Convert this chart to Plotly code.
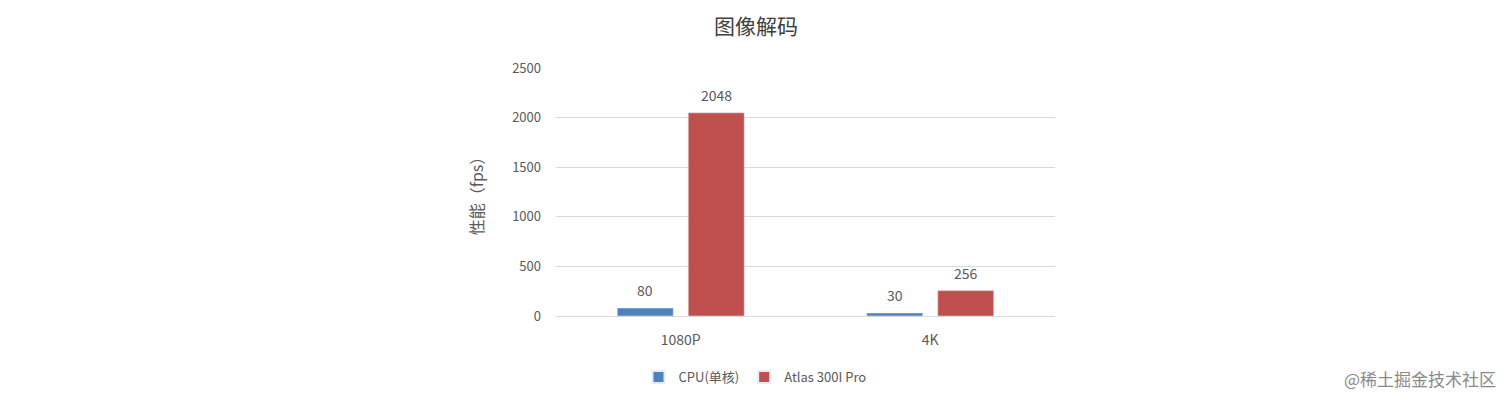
import plotly.graph_objects as go

categories = ["1080P", "4K"]
cpu_values = [80, 30]
atlas_values = [2048, 256]
series_names = ["CPU(单核)", "Atlas 300I Pro"]
y_ticks = [0, 500, 1000, 1500, 2000, 2500]

FONT = "Noto Sans CJK SC, Noto Sans, sans-serif"
GREY = "#595959"

# page body has 8px margin, so figure coordinates = screen - 8
OFF = 8
L, R_EDGE, T, B_EDGE = 556 - OFF, 1055 - OFF, 68 - OFF, 316 - OFF
PW, PH = R_EDGE - L, B_EDGE - T

fig = go.Figure()
fig.add_trace(go.Bar(
    x=categories, y=cpu_values, name=series_names[0],
    marker_color="#4F81BD",
))
fig.add_trace(go.Bar(
    x=categories, y=atlas_values, name=series_names[1],
    marker_color="#C0504D",
))

annotations = []
for series, shift in ((cpu_values, -35.5), (atlas_values, 35.5)):
    for cat, val in zip(categories, series):
        annotations.append(dict(
            x=cat, y=val, xref="x", yref="y", text=str(val), showarrow=False,
            xshift=shift, yshift=18, yanchor="middle", xanchor="center",
            font=dict(size=14, color=GREY)))
annotations.append(dict(text="@稀土掘金技术社区", xref="paper", yref="paper",
                        x=(1498 - 556) / PW, xanchor="right",
                        y=-(378 - 316) / PH, yanchor="middle", showarrow=False,
                        font=dict(size=17, color="#8a8a8a")))

fig.update_layout(
    width=1512, height=402,
    margin=dict(l=L, r=1512 - R_EDGE, t=T, b=402 - B_EDGE),
    paper_bgcolor="white", plot_bgcolor="white",
    font=dict(family=FONT, color=GREY, size=13),
    barmode="group", bargap=0.431, bargroupgap=0.211,
    title=dict(text="图像解码", x=(756 - OFF) / 1512, xref="container", xanchor="center",
               y=1 - (27 - OFF) / 402, yref="container", yanchor="middle",
               font=dict(size=21, color="#404040")),
    legend=dict(orientation="h", x=(755 - 556) / PW, xanchor="center",
                y=-(377 - 316) / PH, yanchor="middle",
                font=dict(size=13, color=GREY), itemwidth=30,
                itemsizing="constant"),
    yaxis=dict(range=[0, 2500], tickvals=y_ticks, showgrid=True,
               gridcolor="#D9D9D9", gridwidth=1, zeroline=False,
               showline=False, ticks="", ticklabelstandoff=14,
               title=dict(text="性能（fps）", standoff=24,
                          font=dict(size=16, color=GREY))),
    xaxis=dict(showline=True, linecolor="#D9D9D9", ticks="",
               ticklabelstandoff=11, tickfont=dict(size=14)),
    showlegend=True,
    annotations=annotations,
)

fig.write_html("out.html")
